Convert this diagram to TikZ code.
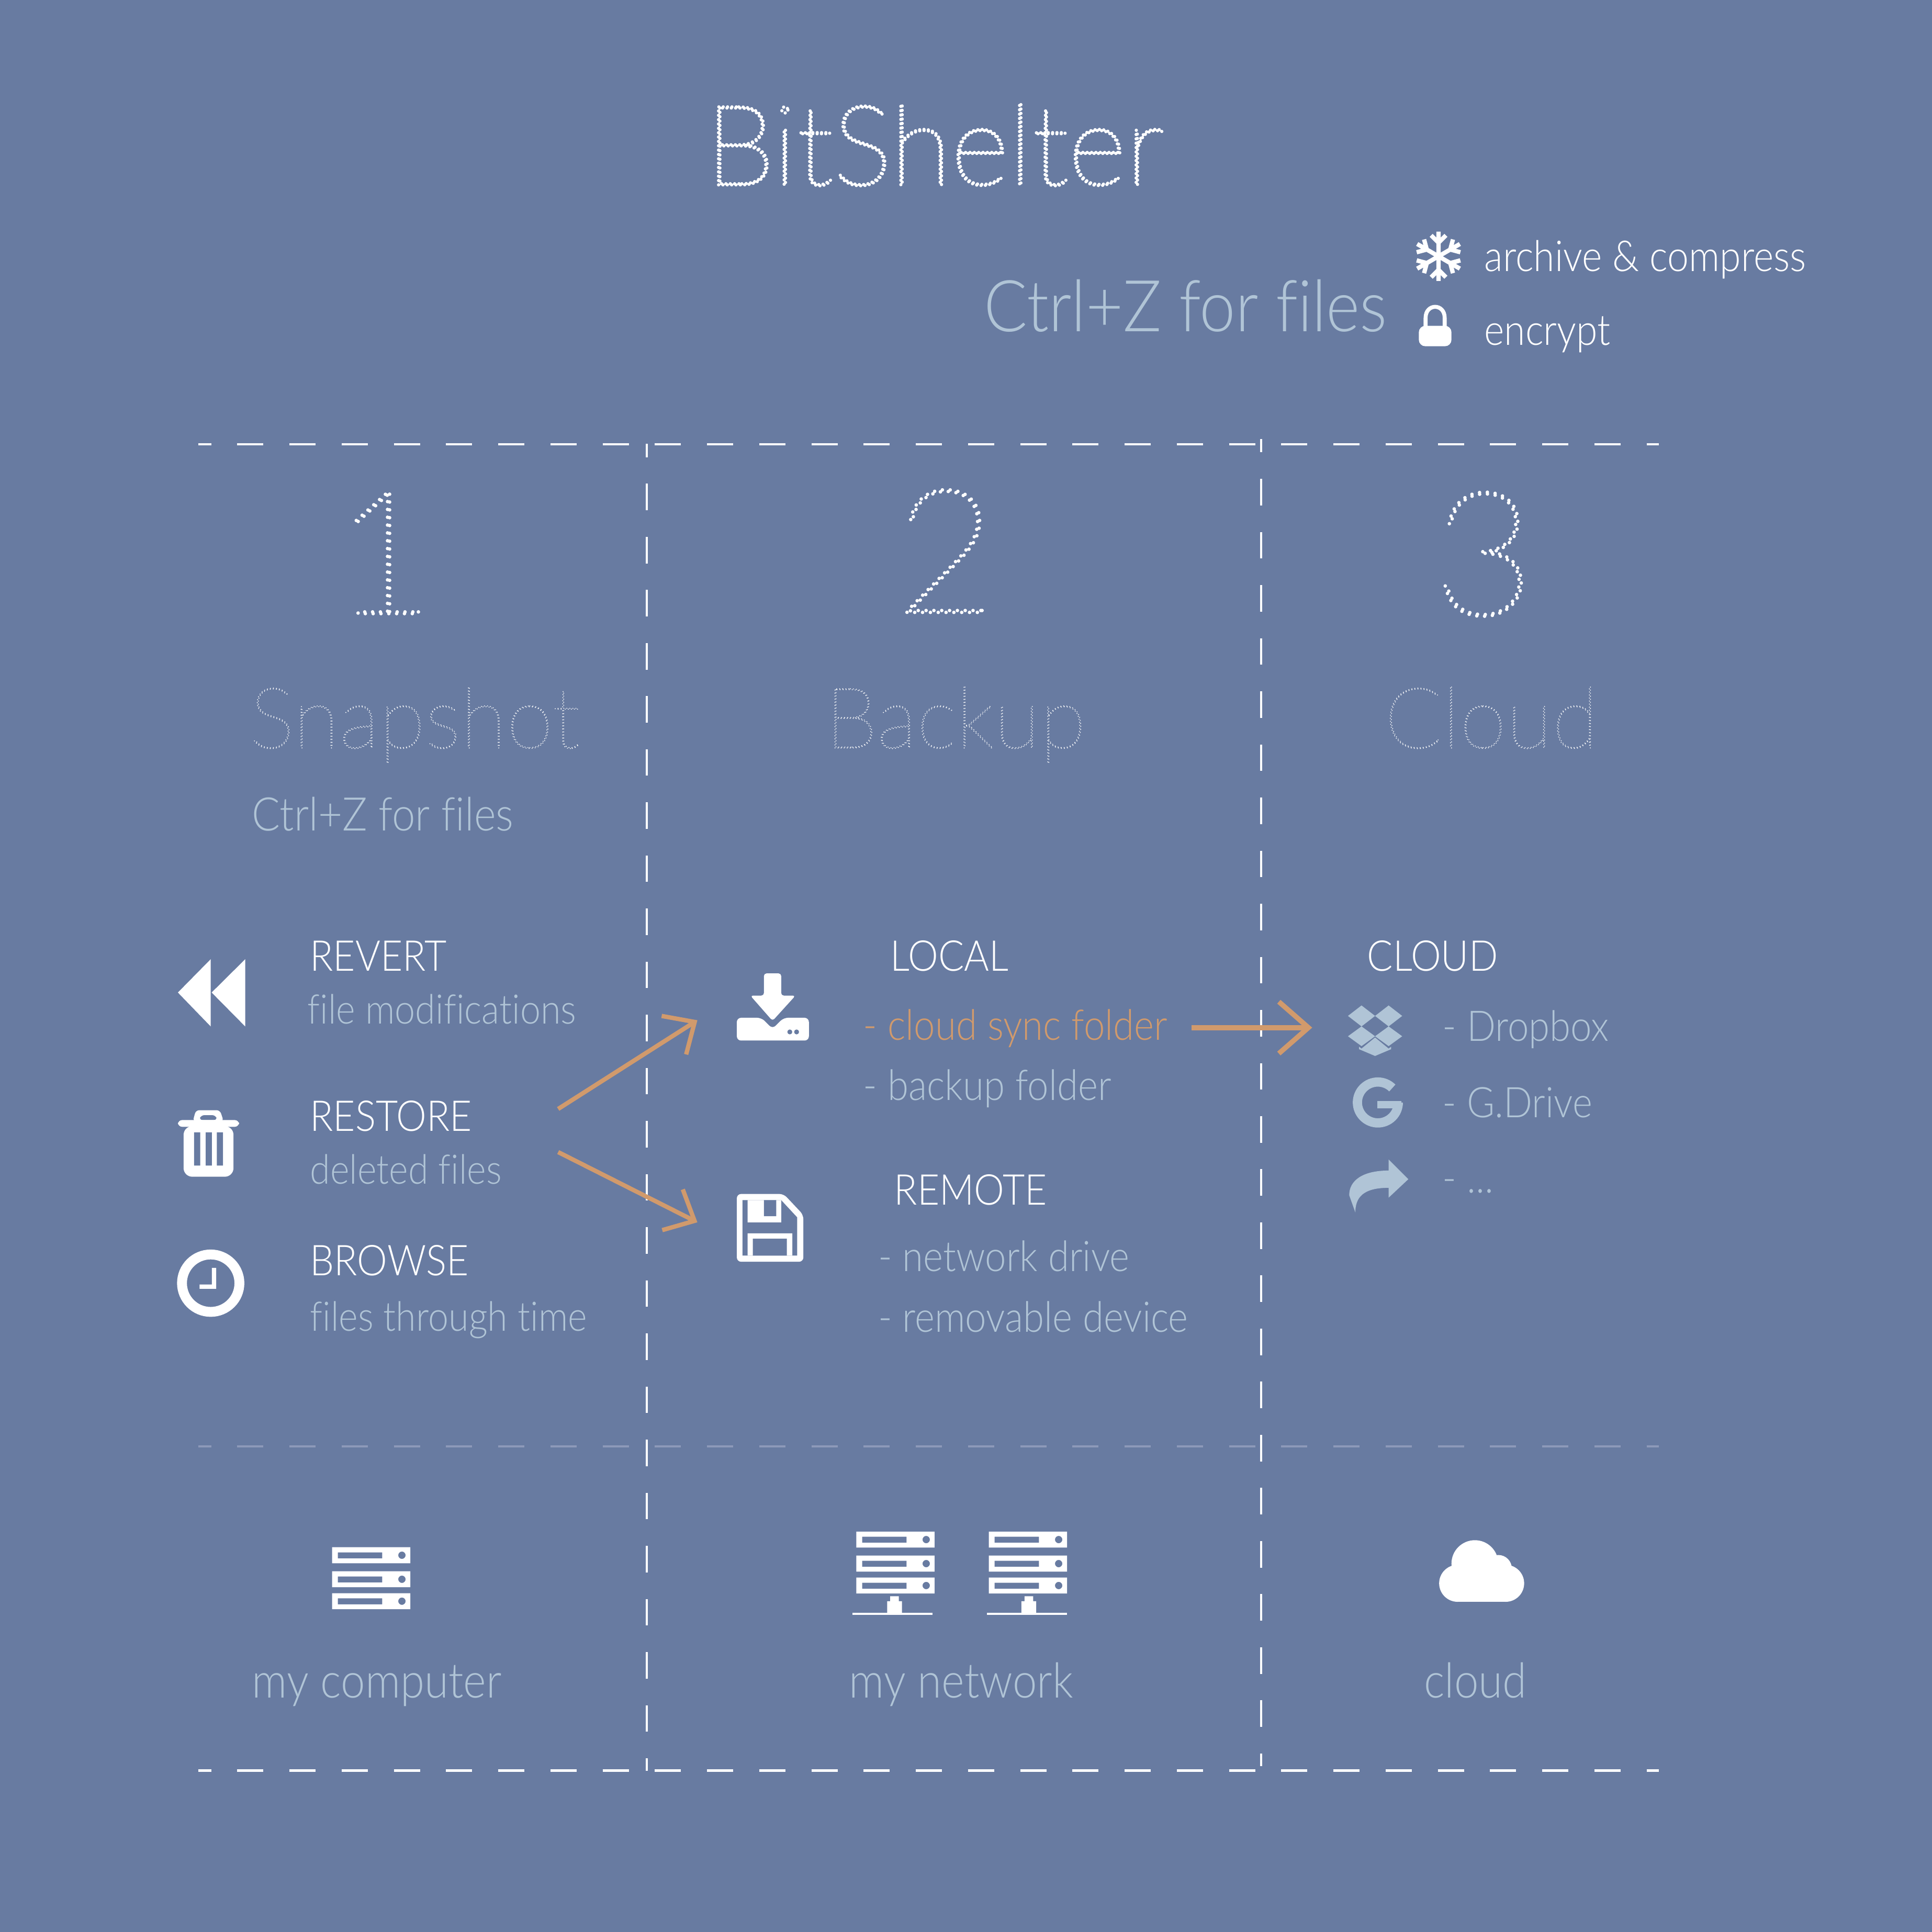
\documentclass[tikz,border=0pt]{standalone}
\usepackage{fontspec}
\usetikzlibrary{arrows.meta}
\setmainfont{Lato Light}[FakeStretch=0.9,Ligatures=NoCommon]
\newfontfamily\thinfont{Lato Hairline}[Ligatures=NoCommon]
\definecolor{fondoAzul}{HTML}{687BA1}
\definecolor{textoClaro}{HTML}{B0C4D6}
\definecolor{naranjaFlecha}{HTML}{D19A6C}
\definecolor{grisRegla}{HTML}{8D99B9}
\newcommand{\dotline}[3]{\special{pdf:code 1 Tr #1 w [0 #2] 0 d 1 J}#3\special{pdf:code 0 Tr 1 w [] 0 d 0 J}}
\tikzset{
    pics/rack/.style={code={
        \foreach \dy in {0,19.5,37.3}
            \fill[white,even odd rule] (0,\dy) rectangle +(63.5,13)
                (4.7,{\dy+4.2}) rectangle +(36,4.9)
                (56.7,{\dy+6.5}) circle[radius=3];
    }},
    pics/netfoot/.style={code={
        \fill[white] (-3.5,0) rectangle (3.5,4) (-6,4) rectangle (6,15);
        \fill[white] (-34,13.5) rectangle (31,15.2);
    }}
}
\begin{document}
\begin{tikzpicture}[x=0.01cm,y=-0.01cm,
        head/.style={inner sep=0pt,anchor=base west,text=white,font=\fontsize{9.8}{11}\selectfont},
        sub/.style={head,text=textoClaro,font=\fontsize{9.4}{11}\selectfont},
        item/.style={sub,font=\fontsize{9.75}{11}\selectfont},
        foot/.style={sub,font=\fontsize{11.2}{13}\selectfont},
        side/.style={head,font=\fontsize{9.85}{11}\selectfont},
        stepname/.style={inner sep=0pt,anchor=base west,text=white,font=\thinfont\fontsize{19.5}{22}\selectfont},
        stepnum/.style={inner sep=0pt,anchor=base west,text=white,font=\thinfont\fontsize{40}{44}\selectfont},
        rulew/.style={white,line width=0.018cm,dash pattern=on 0.2117cm off 0.2117cm,dash phase=0.1058cm},
        ruleg/.style={rulew,grisRegla},
        rulev/.style={white,line width=0.016cm,dash pattern=on 0.2154cm off 0.2154cm,dash phase=0.1077cm},
        flow/.style={-{Straight Barb[length=2mm,width=3.7mm]},naranjaFlecha,line width=1pt},
        flowx/.style={-{Straight Barb[length=2.4mm,width=4.2mm]},naranjaFlecha,line width=1.15pt}
    ]
    \fill[fondoAzul] (0,0) rectangle (1568,1568);

    \node[stepname,font=\thinfont\fontsize{25.7}{30}\selectfont] (title) at (572,150) {\dotline{0.75}{1}{BitShelter}};
    \node[foot,font=\fontsize{16.5}{20}\selectfont] (tagtop) at (798,269) {Ctrl+Z for files};
    \node[side] (archive) at (1204,220) {archive \& compress};
    \node[side] (encrypt) at (1204,280) {encrypt};

    \node[stepnum] (numone) at (270,498) {\dotline{0.8}{1.8}{1}};
    \node[stepnum] (numtwo) at (726,497) {\dotline{0.8}{1.8}{2}};
    \node[stepnum] (numthree) at (1163,499) {\dotline{0.8}{1.8}{3}};
    \node[stepname] (snap) at (202,607) {\dotline{0.25}{0.7}{Snapshot}};
    \node[stepname] (back) at (669,607) {\dotline{0.25}{0.7}{Backup}};
    \node[stepname] (cloudname) at (1123,607) {\dotline{0.25}{0.7}{Cloud}};
    \node[sub,font=\fontsize{10.7}{13}\selectfont] (tag) at (204,674) {Ctrl+Z for files};

    \node[head] (revert) at (251,788) {REVERT};
    \node[sub] (revertsub) at (249,831) {file modifications};
    \node[head] (restore) at (251,918) {RESTORE};
    \node[sub] (restoresub) at (251,961) {deleted files};
    \node[head] (browse) at (251,1035) {BROWSE};
    \node[sub] (browsesub) at (251,1080) {files through time};

    \node[head] (local) at (722,788) {LOCAL};
    \node[item,text=naranjaFlecha] (sync) at (700,844) {- cloud sync folder};
    \node[item] (backup) at (700,893) {- backup folder};
    \node[head] (remote) at (725,978) {REMOTE};
    \node[item] (netdrive) at (712,1032) {- network drive};
    \node[item] (removable) at (712,1081) {- removable device};

    \node[head] (cloudhead) at (1109,788) {CLOUD};
    \node[item] (dropbox) at (1170,845) {- Dropbox};
    \node[item] (gdrive) at (1170,907) {- G.Drive};
    \node[item] (dots) at (1170,968) {- ...};

    \node[foot] (mycomp) at (204,1378) {my computer};
    \node[foot] (mynet) at (688.5,1378) {my network};
    \node[foot] (cloudfoot) at (1155,1378) {cloud};

    \coordinate (ruleTopL) at (160.8,360.4);
    \coordinate (ruleTopR) at (1346.3,360.4);
    \coordinate (ruleMidL) at (160.8,1174);
    \coordinate (ruleMidR) at (1346.3,1174);
    \coordinate (ruleBotL) at (160.8,1437);
    \coordinate (ruleBotR) at (1346.3,1437);
    \coordinate (colA) at (525,360.2);
    \coordinate (colAend) at (525,1437);
    \coordinate (colB) at (1023.5,356.3);
    \coordinate (colBend) at (1023.5,1433.3);
    \draw[rulew] (ruleTopL) -- (ruleTopR);
    \draw[ruleg] (ruleMidL) -- (ruleMidR);
    \draw[rulew] (ruleBotL) -- (ruleBotR);
    \draw[rulev] (colA) -- (colAend);
    \draw[rulev] (colB) -- (colBend);

    \coordinate (restoreUp) at (453,900);
    \coordinate (localIn) at (566,828);
    \coordinate (restoreDown) at (453,935);
    \coordinate (remoteIn) at (566,992);
    \coordinate (syncOut) at (967,834);
    \coordinate (dropIn) at (1065,834);
    \draw[flow] (restoreUp) -- (localIn);
    \draw[flow] (restoreDown) -- (remoteIn);
    \draw[flowx] (syncOut) -- (dropIn);

    % iconos arriba
    \begin{scope}[shift={(1167.5,208)}]
        \foreach \a in {0,60,120}
            \draw[white,line width=0.035cm,rotate=\a] (0,-20) -- (0,20)
                (-6,-17) -- (0,-11) -- (6,-17) (-6,17) -- (0,11) -- (6,17);
    \end{scope}
    \fill[white,rounded corners=1.5pt] (1151.5,264.4) rectangle (1178,281);
    \draw[white,line width=0.032cm] (1157,266) -- (1157,258) .. controls (1157,246) and (1172.5,246) .. (1172.5,258) -- (1172.5,266);

    % iconos columna 1
    \fill[white] (144.4,805.5) -- (171,778.5) -- (171,833) -- cycle;
    \fill[white] (171.8,805.5) -- (199,778.5) -- (199,833) -- cycle;
    \fill[white,rounded corners=1pt] (144.4,909) rectangle (194,914.5);
    \fill[white,rounded corners=0.8pt,even odd rule] (156.5,910) -- (159,901) -- (178.5,901) -- (181.5,910) -- cycle
        (161.5,909) -- (163,905) -- (175,905) -- (176.5,909) -- cycle;
    \fill[white,rounded corners=2pt] (149,914) -- (149,955) -- (189.5,955) -- (189.5,914) -- cycle;
    \fill[fondoAzul] (157.5,919) rectangle (162.5,946) (167,919) rectangle (172,946) (176,919) rectangle (181,946);
    \draw[white,line width=0.08cm] (171,1041.4) circle[radius=23.3];
    \fill[white] (172,1029) rectangle (175.5,1046) (162,1042.5) rectangle (175.5,1046);

    % iconos columna 2
    \fill[white,rounded corners=0.6pt] (620,790) -- (634,790) -- (634,808) -- (645.6,808) -- (627,828.5) -- (609,808) -- (620,808) -- cycle;
    \fill[white,rounded corners=1pt] (598,826) -- (618,826) -- (627,835) -- (636,826) -- (656.5,826) -- (656.5,844.5) -- (598,844.5) -- cycle;
    \fill[fondoAzul] (641,837.5) circle[radius=2] (646.5,837.5) circle[radius=2];
    \fill[white,rounded corners=1pt] (598,969) -- (636,969) -- (652,986) -- (652,1024) -- (598,1024) -- cycle;
    \fill[fondoAzul] (602.6,974) -- (634,974) -- (647,988) -- (647,1019) -- (602.6,1019) -- cycle;
    \fill[white] (606.7,974) rectangle (634,992) (606.7,1001) rectangle (643,1019);
    \fill[fondoAzul] (620,974) rectangle (630,987) (611,1005.3) rectangle (638.6,1019);

    % iconos columna 3
    \fill[textoClaro] (1094,824.5) -- (1105,816) -- (1116,824.5) -- (1105,833) -- cycle
        (1116,824.5) -- (1127,816) -- (1138,824.5) -- (1127,833) -- cycle
        (1094,841) -- (1105,833) -- (1116,841) -- (1105,849) -- cycle
        (1116,841) -- (1127,833) -- (1138,841) -- (1127,849) -- cycle
        (1103,849.5) -- (1105,851) -- (1116,842) -- (1127,851) -- (1129,849.5) -- (1129,851.5) -- (1116,857) -- (1103,851.5) -- cycle;
    \draw[textoClaro,line width=0.075cm] (1130,883) arc[start angle=-45,end angle=-360,radius=16.6];
    \fill[textoClaro] (1118,893.6) rectangle (1137.5,899.5);
    \fill[textoClaro] (1143,957) -- (1127,941) -- (1127,950) .. controls (1106,950) and (1095,958) .. (1095,970) -- (1100,984) .. controls (1100,972) and (1106,964) .. (1127,964) -- (1127,972) -- cycle;

    % iconos abajo
    \pic at (269.5,1255.7) {rack};
    \pic at (695,1243) {rack};
    \pic at (802.5,1243) {rack};
    \pic at (726,1295.5) {netfoot};
    \pic at (835,1295.5) {netfoot};
    \fill[white] (1183,1285) circle[radius=15];
    \fill[white] (1222,1285) circle[radius=15];
    \fill[white] (1197,1269) circle[radius=19];
    \fill[white] (1216,1273) circle[radius=11];
    \fill[white] (1183,1280) rectangle (1222,1300);
\end{tikzpicture}
\end{document}
